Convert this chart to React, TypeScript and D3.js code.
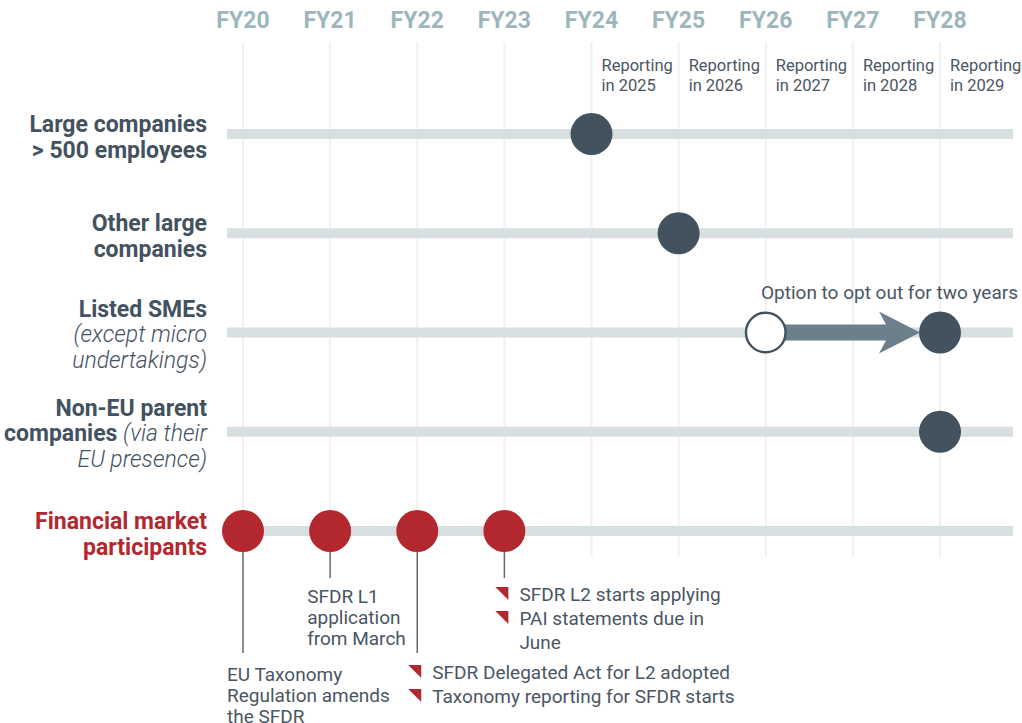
import * as d3 from 'd3';

const years = ['FY20', 'FY21', 'FY22', 'FY23', 'FY24', 'FY25', 'FY26', 'FY27', 'FY28'];
const reportingYears = ['FY24', 'FY25', 'FY26', 'FY27', 'FY28'];
const reportingLabels = ['in 2025', 'in 2026', 'in 2027', 'in 2028', 'in 2029'];

const rows = ['large', 'other', 'sme', 'nonEu', 'fmp'];

// each label line: [bold part, italic part]
const rowLabels: [string, string][][] = [
  [['Large companies', ''], ['> 500 employees', '']],
  [['Other large', ''], ['companies', '']],
  [['Listed SMEs', ''], ['', '(except micro'], ['', 'undertakings)']],
  [['Non-EU parent', ''], ['companies ', '(via their'], ['', 'EU presence)']],
  [['Financial market', ''], ['participants', '']],
];

const dotRows = ['large', 'other', 'sme', 'nonEu', 'fmp', 'fmp', 'fmp', 'fmp'];
const dotYears = ['FY24', 'FY25', 'FY28', 'FY28', 'FY20', 'FY21', 'FY22', 'FY23'];

const optOutFrom = 'FY26';
const optOutTo = 'FY28';
const optOutLabel = 'Option to opt out for two years';

const noteYears = ['FY20', 'FY21', 'FY22', 'FY23'];
const noteLineEnds = [653, 578, 653, 578];
const noteTops = [674, 596, 672, 594];
const noteTexts = [
  ['EU Taxonomy', 'Regulation amends', 'the SFDR'],
  ['SFDR L1', 'application', 'from March'],
  ['SFDR Delegated Act for L2 adopted', 'Taxonomy reporting for SFDR starts'],
  ['SFDR L2 starts applying', 'PAI statements due in', 'June'],
];
// which note lines start with a bullet marker
const noteBullets = [
  [false, false, false],
  [false, false, false],
  [true, true],
  [true, true, false],
];

const W = 1022;
const H = 723;
const font = 'Roboto, "Noto Sans", sans-serif';
const dark = '#43525f';
const textCol = '#4a5663';
const red = '#b3282f';

export default function App() {
  const x = d3.scalePoint<string>().domain(years).range([243, 940]);
  const y = d3.scalePoint<string>().domain(rows).range([134, 531]);
  const trackX0 = 227;
  const trackX1 = 1013;
  const r = 21;

  const fromX = x(optOutFrom)!;
  const toX = x(optOutTo)!;
  const smeY = y('sme')!;
  const arrowPath = d3.path();
  arrowPath.moveTo(fromX + r - 2, smeY - 8);
  arrowPath.lineTo(toX - 54, smeY - 8);
  arrowPath.lineTo(toX - 61, smeY - 21);
  arrowPath.lineTo(toX - r + 1, smeY);
  arrowPath.lineTo(toX - 61, smeY + 21);
  arrowPath.lineTo(toX - 54, smeY + 8);
  arrowPath.lineTo(fromX + r - 2, smeY + 8);
  arrowPath.closePath();

  return (
    <svg width={W} height={H} style={{ position: 'absolute', left: 0, top: 0, background: '#fff' }} fontFamily={font}>
      {/* gridlines */}
      {years.map((yr) => (
        <line key={yr} x1={x(yr)} x2={x(yr)} y1={42} y2={557} stroke="#eef2f2" strokeWidth={2} />
      ))}
      {/* year headers */}
      {years.map((yr) => (
        <text key={yr} x={x(yr)} y={20} dy="0.35em" textAnchor="middle" fontWeight={700} fontSize={23} fill="#9db6bc">
          {yr}
        </text>
      ))}
      {/* reporting labels */}
      {reportingYears.map((yr, i) => (
        <text key={yr} x={x(yr)! + 10} fontSize={16.5} fill={textCol}>
          <tspan x={x(yr)! + 10} y={71}>Reporting</tspan>
          <tspan x={x(yr)! + 10} y={91}>{reportingLabels[i]}</tspan>
        </text>
      ))}
      {/* tracks */}
      {rows.map((row) => (
        <rect key={row} x={trackX0} y={y(row)! - 5} width={trackX1 - trackX0} height={10} fill="#d8dfe1" />
      ))}
      {/* row labels */}
      {rows.map((row, i) => {
        const lines = rowLabels[i];
        const startY = y(row)! - (lines.length === 2 ? 10 : 24);
        return (
          <text key={row} textAnchor="end" fontSize={23} fill={row === 'fmp' ? red : dark}>
            {lines.map(([b, it], j) => (
              <tspan key={j} x={207} y={startY + j * 25.5 + 8}>
                {b && <tspan fontWeight={700}>{b}</tspan>}
                {it && <tspan fontStyle="italic" fontWeight={300}>{it}</tspan>}
              </tspan>
            ))}
          </text>
        );
      })}
      {/* note connector lines */}
      {noteYears.map((yr, i) => (
        <line key={yr} x1={x(yr)} x2={x(yr)} y1={y('fmp')} y2={noteLineEnds[i]} stroke="#5f6b75" strokeWidth={1.5} />
      ))}
      {/* opt-out arrow */}
      <path d={arrowPath.toString()} fill="#6c7f8b" />
      <text x={1018} y={292} dy="0.35em" textAnchor="end" fontSize={19} fill={textCol}>
        {optOutLabel}
      </text>
      {/* dots */}
      {dotYears.map((yr, i) => (
        <circle key={i} cx={x(yr)} cy={y(dotRows[i])} r={r} fill={dotRows[i] === 'fmp' ? red : dark} />
      ))}
      <circle cx={fromX} cy={smeY} r={r - 1.2} fill="#fff" stroke={dark} strokeWidth={2.4} />
      {/* notes */}
      {noteYears.map((yr, i) => {
        const lines = noteTexts[i];
        const bullets = noteBullets[i].some(Boolean);
        const cx = x(yr)!;
        const lx = bullets ? cx + 15 : yr === 'FY20' ? cx - 16 : cx - 23;
        const y0 = noteTops[i];
        const step = bullets ? 24 : 21;
        return (
          <g key={yr}>
            {lines.map((t, j) => (
              <g key={j}>
                {noteBullets[i][j] && (
                  <path
                    d={`M${cx - 9},${y0 + j * step - 7}L${cx + 4},${y0 + j * step - 7}L${cx + 4},${y0 + j * step + 6}Z`}
                    fill={red}
                  />
                )}
                <text x={lx} y={y0 + j * step} dy="0.35em" fontSize={19} fill={textCol}>
                  {t}
                </text>
              </g>
            ))}
          </g>
        );
      })}
    </svg>
  );
}
